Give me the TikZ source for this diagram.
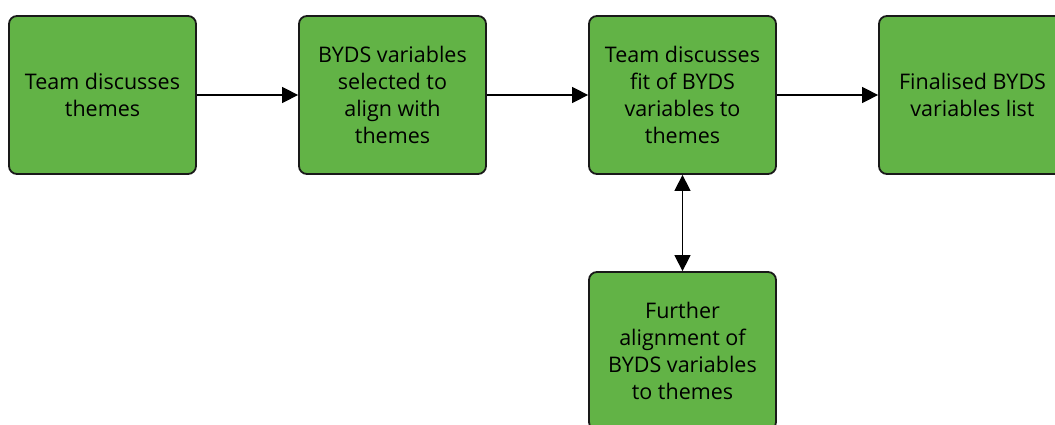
\documentclass[tikz,border=0pt]{standalone}
\usepackage{fontspec}
\setmainfont{Open Sans}
\usetikzlibrary{arrows.meta}
\definecolor{boxgreen}{HTML}{62B346}
\begin{document}
\begin{tikzpicture}[x=1pt,y=-1pt,
  box/.style={draw=black!90, line width=1.8pt, fill=boxgreen, rounded corners=8pt,
    minimum width=187pt, minimum height=158pt, inner sep=0pt, align=center,
    font=\fontsize{21.5}{27}\selectfont},
  conn/.style={line width=1.5pt, -{Triangle[length=16pt,width=16pt]}},
  dconn/.style={line width=1.5pt, {Triangle[length=16pt,width=16pt]}-{Triangle[length=16pt,width=16pt]}}]
\useasboundingbox (0,0) rectangle (1055,425);
\clip (0,0) rectangle (1055,425);
\node[box] (a) at (102.5,95) {Team discusses\\themes};
\node[box] (b) at (392.5,95) {BYDS variables\\selected to\\align with\\themes};
\node[box] (c) at (682.5,95) {Team discusses\\fit of BYDS\\variables to\\themes};
\node[box] (d) at (972.5,95) {Finalised BYDS\\variables list};
\node[box] (e) at (682.5,351) {Further\\alignment of\\BYDS variables\\to themes};
\draw[conn] (a) -- (b);
\draw[conn] (b) -- (c);
\draw[conn] (c) -- (d);
\draw[dconn] (c) -- (e);
\end{tikzpicture}
\end{document}
